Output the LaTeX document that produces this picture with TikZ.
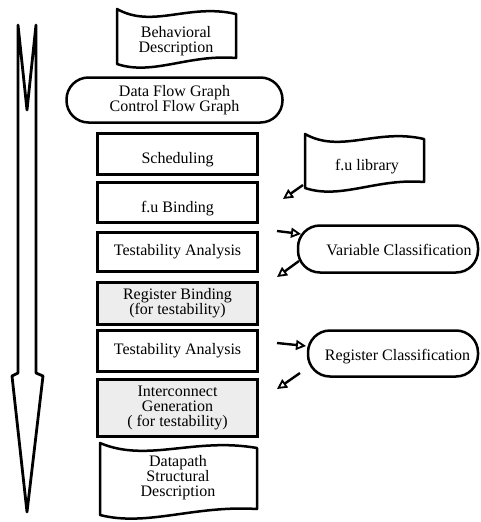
\documentclass[tikz,border=0pt]{standalone}
\usepackage{fontspec}
\setmainfont{Liberation Serif}
\usetikzlibrary{arrows.meta,calc}
\newcommand\tapeshape[4]{% x1, x2, top-left y, bottom-left y
  \pgfmathsetmacro\tw{#2-#1}
  \draw[edge] (#1,#3) .. controls ({#1+0.3*\tw},{#3+20}) and ({#1+0.6*\tw},{#3-6}) .. (#2,{#3+5})
    -- (#2,{#4-6}) .. controls ({#1+0.6*\tw},{#4-10}) and ({#1+0.3*\tw},{#4+12}) .. (#1,#4) -- cycle;
}
\begin{document}
\begin{tikzpicture}[x=1pt,y=-1pt,
  every node/.style={font=\fontsize{16}{15}\selectfont, align=center, inner sep=0pt},
  box/.style={draw, line width=2.5pt, minimum width=160pt},
  grey/.style={fill=black!7},
  oval/.style={draw, line width=2.5pt, rounded corners=22pt},
  edge/.style={line width=2.5pt, line join=round},
  bigarrow/.style={line width=2.8pt, line join=round},
  small/.style={line width=2.4pt, -{Triangle[open, length=10pt, width=10pt, line width=1.8pt]}},
]
\useasboundingbox (0,0) rectangle (481,522);

% big process arrow
\draw[bigarrow] (18,25) -- (27,110) -- (36,25) -- (36,373) -- (43,376) -- (27,512) -- (12,376) -- (18,373) -- cycle;

% tape shapes
\tapeshape{117}{236}{9}{64}
\node (beh) at (176,41) {Behavioral\\Description};

\tapeshape{305}{424}{134}{188}
\node (fulib) at (367,167) {f.u library};

\tapeshape{100}{257}{443}{515}
\node (dp) at (178,478) {Datapath\\Structural\\Description};

% flow boxes
\node[oval, minimum width=216pt, minimum height=45pt] (dfg) at (174.5,100) {Data Flow Graph\\Control Flow Graph};
\node[box, minimum height=41pt, text height=23pt, text depth=3.5pt] (sched) at (177.5,154) {Scheduling};
\node[box, minimum height=40pt, text height=23pt, text depth=3.5pt] (fub) at (177.5,202.5) {f.u Binding};
\node[box, minimum height=39pt] (ta1) at (177.5,252) {Testability Analysis};
\node[box, grey, minimum height=42pt] (rb) at (177.5,303.5) {Register Binding\\(for testability)};
\node[box, minimum height=41pt] (ta2) at (177.5,351) {Testability Analysis};
\node[box, grey, minimum height=57pt] (ic) at (177.5,408) {Interconnect\\Generation\\( for testability)};

% classification ovals
\node[oval, minimum width=180pt, minimum height=47pt] (vc) at (388,249) {};
\node (vct) at (399,250) {Variable Classification};
\node[oval, minimum width=170pt, minimum height=46pt] (rc) at (393,353.5) {};
\node (rct) at (397.5,357) {Register Classification};

% small arrows
\coordinate (a1s) at (303,185); \coordinate (a1e) at (283,199);
\coordinate (a2s) at (277,231); \coordinate (a2e) at (301,234);
\coordinate (a3s) at (299,261); \coordinate (a3e) at (277,277);
\coordinate (a4s) at (277,343); \coordinate (a4e) at (306,346);
\coordinate (a5s) at (300,373); \coordinate (a5e) at (277,389);
\draw[small] (a1s) -- (a1e);
\draw[small] (a2s) -- (a2e);
\draw[small] (a3s) -- (a3e);
\draw[small] (a4s) -- (a4e);
\draw[small] (a5s) -- (a5e);
\end{tikzpicture}
\end{document}
